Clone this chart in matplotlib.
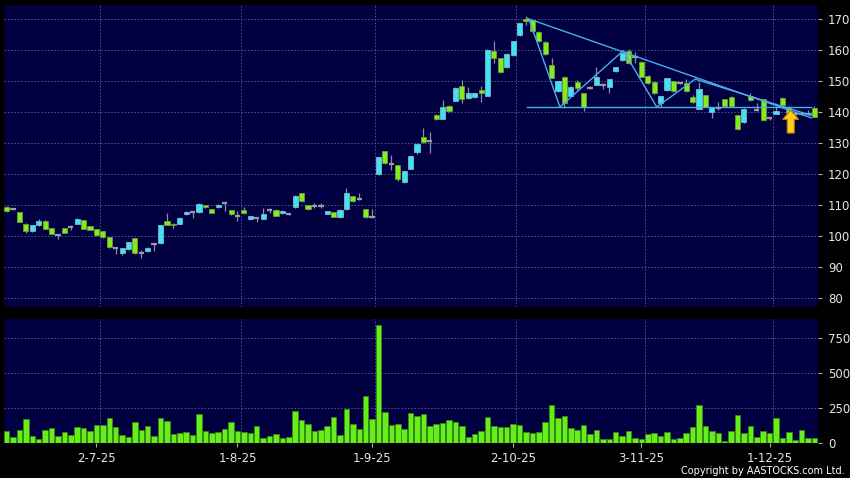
"""AASTOCKS style candlestick chart with volume panel."""
import matplotlib
matplotlib.use("Agg")
import matplotlib.pyplot as plt
from matplotlib.patches import Polygon

# daily OHLC, 12-Jun-25 .. 10-Dec-25 (trading days)
OPEN = [109.3, 108.6, 107.6, 103.8, 101.7, 103.5, 104.8, 102.5, 100.4, 102.5,
        102.8, 104.0, 105.1, 103.1, 102.2, 101.5, 99.6, 96.1, 94.6, 95.7,
        99.3, 94.4, 95.3, 97.3, 97.7, 104.8, 103.9, 104.0, 107.0, 107.6,
        107.6, 110.0, 108.6, 109.3, 110.5, 108.4, 106.5, 108.4, 105.4, 105.7,
        105.6, 108.4, 108.5, 107.3, 107.0, 109.3, 113.8, 109.9, 109.7, 109.7,
        107.2, 107.6, 106.0, 108.6, 112.9, 111.8, 108.6, 106.0, 119.9, 127.3,
        123.2, 122.8, 117.4, 121.7, 127.1, 131.8, 130.7, 138.9, 137.8, 141.9,
        143.7, 148.4, 144.5, 144.7, 147.1, 145.2, 159.8, 157.3, 154.4, 158.3,
        164.7, 170.1, 169.7, 165.8, 162.6, 155.1, 146.7, 151.4, 145.2, 149.7,
        146.0, 147.8, 148.8, 148.6, 148.0, 153.1, 156.8, 159.8, 157.6, 156.1,
        151.6, 149.7, 142.8, 147.1, 149.9, 149.3, 149.5, 144.7, 141.1, 145.4,
        140.0, 141.2, 144.1, 144.7, 138.9, 136.8, 145.0, 140.5, 144.1, 138.2,
        139.4, 144.5, 141.7, 139.3, 139.2, 139.3, 141.3]
HIGH = [109.6, 108.9, 107.8, 104.3, 103.7, 105.4, 105.0, 102.6, 100.5, 102.6,
        103.6, 105.8, 105.2, 103.3, 102.3, 101.6, 99.7, 96.3, 96.2, 98.2,
        99.5, 95.5, 96.6, 97.4, 103.7, 107.5, 104.1, 106.1, 108.0, 107.8,
        110.6, 110.1, 108.7, 110.2, 110.6, 108.5, 108.0, 109.3, 106.6, 106.0,
        109.0, 109.0, 108.6, 108.4, 107.2, 113.1, 113.9, 110.0, 110.5, 110.5,
        108.2, 107.7, 108.6, 115.5, 113.0, 114.0, 108.7, 108.6, 125.6, 127.5,
        126.0, 123.0, 121.1, 126.0, 129.9, 134.9, 133.5, 139.3, 144.0, 142.1,
        147.9, 150.3, 148.2, 146.2, 148.4, 160.2, 163.0, 157.5, 158.9, 163.0,
        168.8, 170.8, 169.8, 166.0, 162.8, 157.3, 150.1, 151.6, 148.4, 150.3,
        146.2, 148.4, 154.6, 149.2, 150.7, 154.6, 159.1, 160.3, 159.4, 156.3,
        151.8, 150.0, 145.2, 151.0, 150.1, 149.5, 150.7, 145.4, 149.6, 145.6,
        141.7, 143.3, 144.3, 145.1, 139.1, 141.3, 146.0, 143.0, 144.3, 138.5,
        142.0, 144.7, 141.9, 139.5, 139.4, 140.7, 141.8]
LOW = [107.9, 108.3, 104.6, 101.1, 101.3, 103.3, 102.2, 100.6, 99.0, 101.0,
       102.0, 103.8, 102.3, 101.8, 100.0, 99.4, 96.2, 94.2, 93.9, 95.5,
       94.3, 92.9, 94.8, 95.3, 97.5, 103.5, 102.5, 103.8, 106.8, 105.7,
       107.4, 109.1, 107.3, 109.1, 108.1, 106.8, 104.8, 107.2, 105.1, 104.5,
       105.4, 107.3, 106.3, 107.1, 106.8, 109.1, 111.0, 108.3, 108.9, 108.9,
       107.0, 106.0, 105.8, 108.4, 111.0, 111.6, 105.8, 105.9, 119.7, 123.3,
       121.3, 117.8, 117.2, 121.5, 126.5, 130.1, 126.9, 137.4, 137.6, 140.0,
       143.5, 142.8, 144.3, 144.5, 143.3, 145.0, 155.7, 152.7, 154.2, 158.1,
       164.5, 168.2, 165.8, 162.6, 158.5, 150.8, 146.5, 141.3, 145.0, 147.0,
       140.2, 147.3, 148.6, 147.3, 146.0, 152.9, 156.6, 155.5, 155.7, 151.2,
       149.1, 145.8, 141.7, 146.9, 146.5, 149.1, 146.5, 143.0, 140.9, 141.5,
       137.9, 140.5, 141.7, 141.7, 134.2, 136.6, 143.7, 140.3, 137.2, 137.5,
       139.2, 142.2, 139.4, 139.1, 139.0, 139.1, 138.3]
CLOSE = [108.2, 108.6, 104.6, 101.7, 103.5, 104.8, 102.4, 100.8, 100.4, 101.1,
         102.8, 105.4, 102.4, 102.0, 100.2, 99.6, 96.4, 96.1, 96.0, 98.0,
         94.6, 94.4, 96.1, 97.3, 103.5, 103.7, 103.5, 105.8, 107.7, 107.6,
         110.3, 109.3, 107.5, 110.0, 110.5, 107.0, 106.5, 107.3, 106.5, 105.7,
         107.0, 108.4, 106.5, 108.2, 107.0, 112.9, 111.2, 108.6, 109.7, 109.7,
         108.0, 106.2, 108.4, 113.8, 111.2, 111.8, 106.0, 106.0, 125.4, 123.5,
         123.2, 118.5, 120.9, 125.8, 129.7, 130.3, 130.7, 137.8, 141.7, 140.2,
         147.7, 144.3, 146.0, 146.0, 146.2, 160.0, 157.4, 152.9, 158.7, 162.8,
         168.6, 169.3, 166.0, 162.8, 158.7, 151.0, 149.9, 143.0, 148.2, 147.7,
         141.7, 147.8, 151.4, 148.6, 150.5, 154.4, 158.9, 155.9, 157.6, 151.4,
         149.3, 146.0, 145.0, 150.8, 146.7, 149.3, 146.7, 143.2, 147.3, 141.7,
         141.5, 141.2, 141.9, 141.9, 134.4, 141.1, 143.9, 140.5, 137.4, 138.2,
         140.2, 142.4, 139.6, 139.3, 139.2, 139.7, 138.5]
VOLUME = [88, 45, 95, 173, 52, 31, 95, 107, 50, 78,
          57, 116, 111, 85, 128, 130, 182, 116, 57, 47,
          149, 95, 125, 52, 178, 161, 69, 76, 78, 59,
          206, 90, 73, 80, 99, 149, 88, 78, 71, 123,
          40, 52, 66, 35, 47, 230, 166, 135, 88, 95,
          121, 187, 57, 241, 135, 99, 336, 173, 840, 222,
          130, 140, 99, 215, 192, 208, 121, 135, 147, 163,
          154, 121, 45, 64, 85, 187, 123, 118, 118, 135,
          128, 80, 76, 78, 149, 270, 182, 194, 107, 92,
          128, 69, 92, 31, 31, 80, 54, 88, 40, 33,
          64, 73, 54, 80, 31, 38, 71, 114, 270, 123,
          88, 71, 17, 85, 199, 76, 121, 45, 88, 73,
          180, 38, 78, 26, 92, 35, 35]

DATE_IDX = [14, 36, 57, 79, 99, 119]
DATE_LABELS = ["2-7-25", "1-8-25", "1-9-25", "2-10-25", "3-11-25", "1-12-25"]

# hand drawn trend lines (bar index, price)
TOP_LINE = [(81.2, 170.2), (125.5, 138.1)]
LOW_LINE = [(81.2, 141.6), (125.5, 141.6)]
ZIGZAG = [(81.5, 169.8), (86.3, 141.6), (96.2, 159.8), (101.4, 141.6),
          (107.4, 150.6), (125.5, 138.9)]
ARROW_X, ARROW_TIP, ARROW_BASE = 122.3, 140.6, 133.2

PANEL = "#000040"
UP, DOWN, FLAT = "#3ce4f4", "#84ec1c", "#9a9aaa"
GRID = "#5a5a90"
TXT = "#e6e6e6"


def style(ax):
    ax.set_facecolor(PANEL)
    for s in ax.spines.values():
        s.set_visible(False)
    ax.yaxis.tick_right()
    ax.tick_params(axis="y", colors="#b0b0b0", labelcolor=TXT, labelsize=8.5,
                   length=3, width=0.8, pad=4)
    ax.tick_params(axis="x", colors="#b0b0b0", labelcolor=TXT, labelsize=8.5,
                   length=3, width=0.8, pad=3)
    ax.grid(axis="y", color=GRID, linestyle=(0, (2, 2)), linewidth=0.6)
    for i in DATE_IDX:
        ax.axvline(i + 0.5, color=GRID, linestyle=(0, (2, 2)), linewidth=0.6, zorder=0.5)
    ax.set_axisbelow(True)
    ax.set_xlim(-0.42, 126.6)


def main():
    fig = plt.figure(figsize=(8.5, 4.78), dpi=100)
    fig.patch.set_facecolor("black")
    ax = fig.add_axes([0.0047, 0.3584, 0.958, 0.6311])
    axv = fig.add_axes([0.0047, 0.0726, 0.958, 0.2594])
    style(ax)
    style(axv)

    n = len(CLOSE)
    xs = list(range(n))
    ax.vlines(xs, LOW, HIGH, color="#8c8c9c", linewidth=0.9, zorder=2)
    for i in xs:
        o, c = OPEN[i], CLOSE[i]
        if c == o:
            ax.hlines(o, i - 0.42, i + 0.42, color=FLAT, linewidth=1.6, zorder=3)
            continue
        face = UP if c > o else DOWN
        edge = "#7fb6c4" if c > o else "#6d9c3c"
        ax.bar(i, abs(c - o), bottom=min(o, c), width=0.8, color=face,
               edgecolor=edge, linewidth=0.6, zorder=3)

    for pts in (TOP_LINE, LOW_LINE, ZIGZAG):
        ax.plot([p[0] for p in pts], [p[1] for p in pts], color="#4aaeea",
                linewidth=1.0, zorder=4)

    head_w, shaft_w, head_h = 1.25, 0.55, 3.0
    arrow = Polygon([(ARROW_X, ARROW_TIP),
                     (ARROW_X + head_w, ARROW_TIP - head_h),
                     (ARROW_X + shaft_w, ARROW_TIP - head_h),
                     (ARROW_X + shaft_w, ARROW_BASE),
                     (ARROW_X - shaft_w, ARROW_BASE),
                     (ARROW_X - shaft_w, ARROW_TIP - head_h),
                     (ARROW_X - head_w, ARROW_TIP - head_h)],
                    closed=True, facecolor="#ffcf1a", edgecolor="#c07a00",
                    linewidth=0.8, zorder=5)
    ax.add_patch(arrow)

    ax.set_ylim(77.2, 174.5)
    ax.set_yticks(range(80, 171, 10))
    ax.set_xticks([])

    axv.bar(xs, VOLUME, width=0.86, color="#66ee18", edgecolor="#3c8c12",
            linewidth=0.5, zorder=3)
    axv.set_ylim(0, 880)
    axv.set_yticks([0, 250, 500, 750])
    axv.set_xticks(DATE_IDX)
    axv.set_xticklabels(DATE_LABELS)

    fig.text(845 / 850, 1 - 470.5 / 478, "Copyright by AASTOCKS.com Ltd.",
             ha="right", va="center", color="white", fontsize=7)

    fig.savefig("out.png", dpi=100, facecolor=fig.get_facecolor())


if __name__ == "__main__":
    main()
